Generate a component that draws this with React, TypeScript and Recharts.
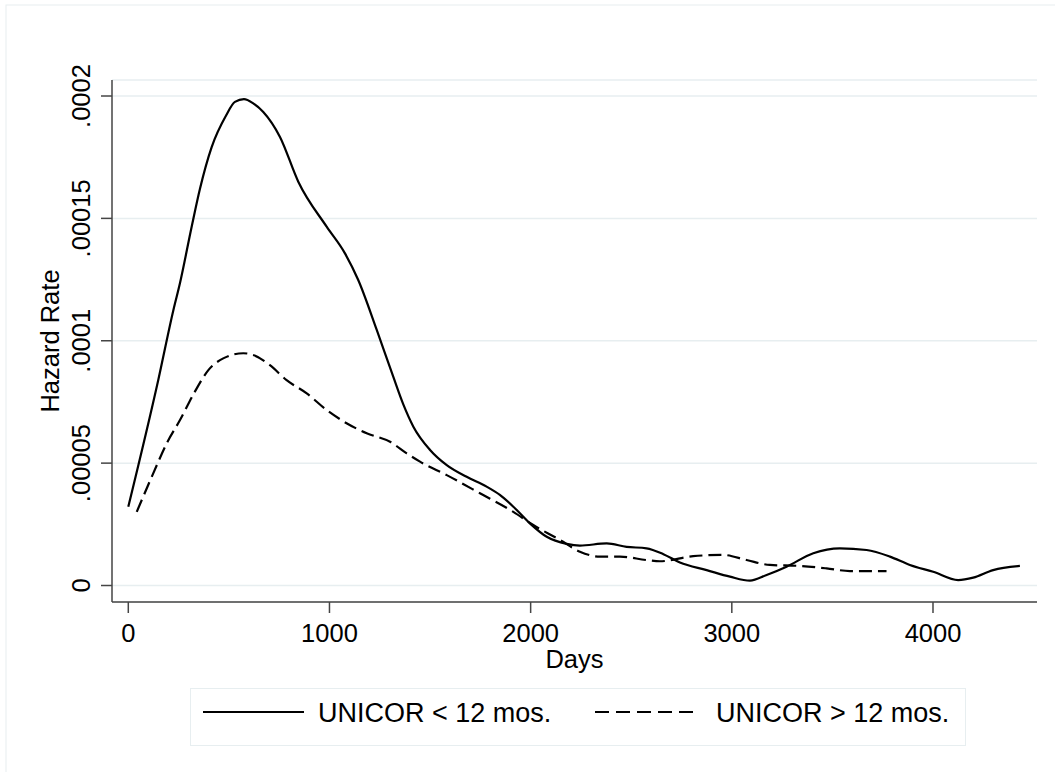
import React from 'react';
import { LineChart, Line, XAxis, YAxis, CartesianGrid, Legend, Customized } from 'recharts';

const FONT = '"Liberation Sans", Arial, Helvetica, sans-serif';

// Smoothed hazard estimates, UNICOR participation under 12 months
const shortDays = [
  0, 149, 224, 257, 315, 356, 414, 486, 530, 575, 621, 671, 754, 845, 986, 1077, 1143,
  1235, 1317, 1367, 1417, 1500, 1583, 1682, 1781, 1847, 1914, 1996, 2080, 2179, 2245,
  2378, 2477, 2576, 2660, 2742, 2875, 2991, 3090, 3173, 3272, 3405, 3537, 3670, 3786,
  3885, 4001, 4125, 4200, 4299, 4432,
];
const shortHazard = [
  3.22e-5, 8.4e-5, 11.25e-5, 12.36e-5, 14.66e-5, 16.2e-5, 17.9e-5, 19.2e-5, 19.76e-5,
  19.87e-5, 19.7e-5, 19.35e-5, 18.33e-5, 16.5e-5, 14.66e-5, 13.57e-5, 12.48e-5, 10.44e-5,
  8.53e-5, 7.4e-5, 6.49e-5, 5.54e-5, 4.92e-5, 4.44e-5, 4.04e-5, 3.7e-5, 3.22e-5, 2.54e-5,
  1.99e-5, 1.7e-5, 1.63e-5, 1.72e-5, 1.58e-5, 1.52e-5, 1.28e-5, 0.94e-5, 0.63e-5, 0.36e-5,
  0.2e-5, 0.43e-5, 0.77e-5, 1.32e-5, 1.52e-5, 1.45e-5, 1.18e-5, 0.84e-5, 0.56e-5, 0.22e-5,
  0.32e-5, 0.63e-5, 0.8e-5,
];

// Smoothed hazard estimates, UNICOR participation over 12 months
const longDays = [
  42, 124, 191, 257, 331, 398, 472, 572, 621, 704, 787, 887, 986, 1085, 1185, 1301, 1384,
  1450, 1583, 1748, 1914, 2013, 2146, 2245, 2344, 2444, 2576, 2642, 2808, 2957, 3073,
  3189, 3338, 3471, 3587, 3769,
];
const longHazard = [
  3.01e-5, 4.58e-5, 5.81e-5, 6.76e-5, 7.92e-5, 8.8e-5, 9.28e-5, 9.49e-5, 9.42e-5, 9.0e-5,
  8.39e-5, 7.85e-5, 7.17e-5, 6.63e-5, 6.22e-5, 5.87e-5, 5.4e-5, 5.06e-5, 4.51e-5, 3.77e-5,
  3.01e-5, 2.47e-5, 1.86e-5, 1.38e-5, 1.18e-5, 1.18e-5, 1.04e-5, 0.99e-5, 1.2e-5, 1.25e-5,
  1.04e-5, 0.84e-5, 0.8e-5, 0.7e-5, 0.59e-5, 0.59e-5,
];

const dayTicks = [0, 1000, 2000, 3000, 4000];
const rateTicks = [0, 0.00005, 0.0001, 0.00015, 0.0002];
const rateTickLabels = ['0', '.00005', '.0001', '.00015', '.0002'];
const seriesNames = ['UNICOR < 12 mos.', 'UNICOR > 12 mos.'];
const xTitle = 'Days';
const yTitle = 'Hazard Rate';

const shortData = shortDays.map((day, i) => ({ day, hazard: shortHazard[i] }));
const longData = longDays.map((day, i) => ({ day, hazard: longHazard[i] }));

const AXIS = '#454545';
const GRID = '#e7eef0';
const TICK_SIZE = 25.5;

const YTick = (props: any) => {
  const { x, y, payload } = props;
  const idx = rateTicks.findIndex((t) => Math.abs(t - payload.value) < 1e-9);
  return (
    <text
      transform={`translate(${x},${y}) rotate(-90)`}
      textAnchor="middle"
      fontFamily={FONT}
      fontSize={TICK_SIZE}
      fill="#000"
    >
      {idx >= 0 ? rateTickLabels[idx] : String(payload.value)}
    </text>
  );
};

const XTick = (props: any) => {
  const { x, y, payload } = props;
  return (
    <text x={x} y={y} dy={18} textAnchor="middle" fontFamily={FONT} fontSize={TICK_SIZE} fill="#000">
      {payload.value}
    </text>
  );
};

const LegendBox = (props: any) => {
  const items = props.payload || [];
  const lineX = [13, 405];
  const textX = [128, 526];
  return (
    <svg width={776} height={58} style={{ display: 'block' }}>
      <rect x={0.5} y={0.5} width={775} height={57} fill="#fff" stroke={GRID} strokeWidth={1} />
      {items.map((entry: any, i: number) => (
        <g key={i}>
          <line
            x1={lineX[i]}
            x2={lineX[i] + 101}
            y1={24}
            y2={24}
            stroke="#000"
            strokeWidth={2.2}
            strokeDasharray={i === 1 ? '14 7' : undefined}
          />
          <text x={textX[i]} y={34} fontFamily={FONT} fontSize={27} fill="#000">
            {entry.value}
          </text>
        </g>
      ))}
    </svg>
  );
};

const Titles = () => (
  <g>
    <rect x={6} y={5} width={1100} height={800} fill="none" stroke={GRID} strokeWidth={1} />
    <text x={574.5} y={668} textAnchor="middle" fontFamily={FONT} fontSize={TICK_SIZE} fill="#000">
      {xTitle}
    </text>
    <text
      transform="translate(59,341) rotate(-90)"
      textAnchor="middle"
      fontFamily={FONT}
      fontSize={TICK_SIZE}
      fill="#000"
    >
      {yTitle}
    </text>
  </g>
);

export default function App() {
  return (
    <div style={{ position: 'absolute', left: 0, top: 0, width: 1055, height: 772, background: '#fff' }}>
      <LineChart width={1055} height={772} margin={{ top: 80, right: 18, bottom: 0, left: 0 }}>
        <CartesianGrid vertical={false} stroke={GRID} strokeWidth={1.5} />
        <XAxis
          dataKey="day"
          type="number"
          domain={[-81, 4517]}
          ticks={dayTicks}
          interval={0}
          allowDataOverflow
          height={170}
          stroke={AXIS}
          strokeWidth={1.5}
          tickSize={11}
          tickMargin={11}
          tick={<XTick />}
        />
        <YAxis
          type="number"
          domain={[-0.00000674, 0.00020654]}
          ticks={rateTicks}
          interval={0}
          allowDataOverflow
          width={112}
          stroke={AXIS}
          strokeWidth={1.5}
          tickSize={11}
          tickMargin={11}
          tick={<YTick />}
        />
        <Legend
          layout="horizontal"
          verticalAlign="middle"
          align="center"
          content={<LegendBox />}
          wrapperStyle={{ position: 'absolute', left: 190, top: 688, width: 776, height: 58 }}
        />
        <Line
          data={shortData}
          dataKey="hazard"
          name={seriesNames[0]}
          type="monotone"
          stroke="#000"
          strokeWidth={2.2}
          dot={false}
          activeDot={false}
          isAnimationActive={false}
        />
        <Line
          data={longData}
          dataKey="hazard"
          name={seriesNames[1]}
          type="monotone"
          stroke="#000"
          strokeWidth={2.2}
          strokeDasharray="13 6"
          dot={false}
          activeDot={false}
          isAnimationActive={false}
        />
        <Customized component={Titles} />
      </LineChart>
    </div>
  );
}
